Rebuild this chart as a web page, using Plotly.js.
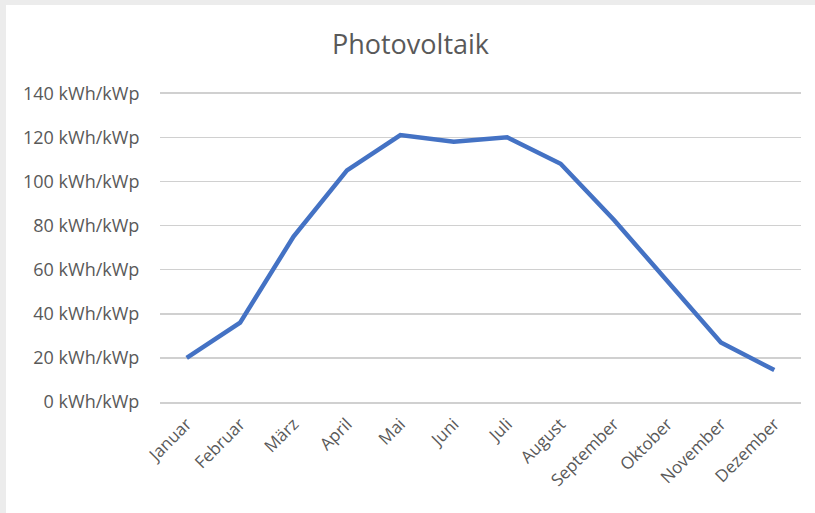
<!DOCTYPE html>
<html>
<head>
<meta charset="utf-8">
<script src="https://cdn.plot.ly/plotly-3.0.1.min.js"></script>
<style>
  html, body { margin: 0; padding: 0; background: #ececec; width: 815px; height: 513px; overflow: hidden; }
  #chart { position: absolute; left: 6px; top: 5px; width: 809px; height: 508px; background: #ffffff; }
</style>
</head>
<body>
<div id="chart"></div>
<script>
const months = ["Januar", "Februar", "März", "April", "Mai", "Juni", "Juli", "August", "September", "Oktober", "November", "Dezember"];
const yieldValues = [20, 36, 75, 105, 121, 118, 120, 108, 82.5, 55, 27, 14.5];
const yTicks = [0, 20, 40, 60, 80, 100, 120, 140];
const chartTitle = "Photovoltaik";
const unitSuffix = " kWh/kWp";

const trace = {
  type: "scatter",
  mode: "lines",
  x: months,
  y: yieldValues,
  line: { color: "#4472C4", width: 4.5 },
  hoverinfo: "x+y"
};

const layout = {
  width: 809,
  height: 508,
  margin: { l: 154, r: 14, t: 86, b: 111 },
  paper_bgcolor: "#ffffff",
  plot_bgcolor: "#ffffff",
  showlegend: false,
  title: {
    text: chartTitle,
    font: { family: "Open Sans, sans-serif", size: 27, color: "#595959" },
    x: 0.5, xanchor: "center",
    y: 1 - 40 / 508, yanchor: "middle", yref: "container"
  },
  xaxis: {
    type: "category",
    range: [-0.5, 11.5],
    tickangle: -45,
    showgrid: false,
    showline: true,
    linecolor: "#d0d0d0",
    linewidth: 1.5,
    ticks: "outside",
    ticklen: 4,
    tickcolor: "rgba(0,0,0,0)",
    tickfont: { family: "Open Sans, sans-serif", size: 17, color: "#595959" },
    fixedrange: true
  },
  yaxis: {
    range: [0, 141],
    tickmode: "array",
    tickvals: yTicks,
    ticktext: yTicks.map(v => v + unitSuffix),
    showgrid: true,
    gridcolor: "#d0d0d0",
    gridwidth: 1.5,
    zeroline: false,
    showline: false,
    ticks: "outside",
    ticklen: 16,
    tickcolor: "rgba(0,0,0,0)",
    tickfont: { family: "Open Sans, sans-serif", size: 18, color: "#595959" },
    fixedrange: true
  }
};

Plotly.newPlot("chart", [trace], layout, { displayModeBar: false, staticPlot: true });
</script>
</body>
</html>
